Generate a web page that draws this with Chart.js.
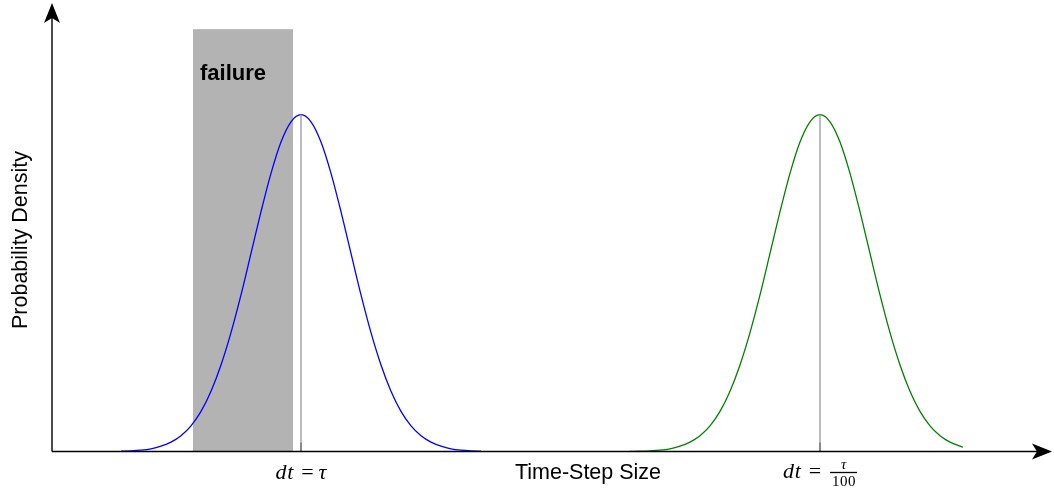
<!DOCTYPE html>
<html>
<head>
<meta charset="utf-8">
<script src="https://cdn.jsdelivr.net/npm/chart.js@4/dist/chart.umd.min.js"></script>
<style>
  html, body { margin: 0; padding: 0; background: #fff; }
  canvas { display: block; }
</style>
</head>
<body>
<canvas id="densityChart" width="1054" height="493"></canvas>
<script>
// x in "time-step" units (axis origin = 0), y = relative density (peak = 1)
var blueX = [0.69, 0.79, 0.89, 0.99, 1.09, 1.19, 1.29, 1.39, 1.49, 1.59, 1.69, 1.79, 1.89, 1.99, 2.09, 2.19, 2.29, 2.39, 2.49,
             2.59, 2.69, 2.79, 2.89, 2.99, 3.09, 3.19, 3.29, 3.39, 3.49, 3.59, 3.69, 3.79, 3.89, 3.99, 4.09, 4.19, 4.29];
var blueY = [0.001, 0.002, 0.004, 0.008, 0.016, 0.028, 0.047, 0.076, 0.119, 0.179, 0.257, 0.353, 0.465, 0.588, 0.712, 0.826, 0.919, 0.979, 1.000,
             0.979, 0.919, 0.826, 0.712, 0.588, 0.465, 0.353, 0.257, 0.179, 0.119, 0.076, 0.047, 0.028, 0.016, 0.008, 0.004, 0.002, 0.001];

var greenX = [5.78, 5.88, 5.98, 6.08, 6.18, 6.28, 6.38, 6.48, 6.58, 6.68, 6.78, 6.88, 6.98, 7.08, 7.18, 7.28, 7.38, 7.48, 7.58, 7.68,
              7.78, 7.88, 7.98, 8.08, 8.18, 8.28, 8.38, 8.48, 8.58, 8.68, 8.78, 8.88, 8.98, 9.08, 9.11];
var greenY = [0.0005, 0.001, 0.002, 0.004, 0.008, 0.016, 0.028, 0.047, 0.076, 0.119, 0.179, 0.257, 0.353, 0.465, 0.588, 0.712, 0.826, 0.919, 0.979, 1.000,
              0.979, 0.919, 0.826, 0.712, 0.588, 0.465, 0.353, 0.257, 0.179, 0.119, 0.076, 0.047, 0.028, 0.016, 0.013];

var peakPositions = [2.49, 7.68];
var failureRange = [1.41, 2.41];   // shaded "failure" band
var failureTop = 1.254;

var xLabel = 'Time-Step Size';
var yLabel = 'Probability Density';
var failureLabel = 'failure';

function toPoints(xs, ys) {
    return xs.map(function(x, i) { return { x: x, y: ys[i] }; });
}

// shaded band behind the curves
var bandPlugin = {
    id: 'band',
    beforeDatasetsDraw: function(chart) {
        var ctx = chart.ctx, xs = chart.scales.x, ys = chart.scales.y;
        var x0 = xs.getPixelForValue(failureRange[0]);
        var x1 = xs.getPixelForValue(failureRange[1]);
        var y0 = ys.getPixelForValue(failureTop);
        var y1 = ys.getPixelForValue(0);
        ctx.save();
        ctx.fillStyle = '#b3b3b3';
        ctx.fillRect(x0, y0, x1 - x0, y1 - y0);
        ctx.fillStyle = '#000';
        ctx.font = 'bold 22px "Liberation Sans", Arial, sans-serif';
        ctx.textBaseline = 'alphabetic';
        ctx.fillText(failureLabel, x0 + 7, y0 + 51);
        ctx.restore();
    }
};

function arrowHead(ctx, x, y, angle) {
    ctx.save();
    ctx.translate(x, y);
    ctx.rotate(angle);
    ctx.beginPath();
    ctx.moveTo(0, 0);
    ctx.lineTo(-20, -8);
    ctx.lineTo(-15, 0);
    ctx.lineTo(-20, 8);
    ctx.closePath();
    ctx.fill();
    ctx.restore();
}

// axes with arrows plus the text labels
var axesPlugin = {
    id: 'axes',
    afterDraw: function(chart) {
        var ctx = chart.ctx, xs = chart.scales.x, ys = chart.scales.y;
        var ox = xs.getPixelForValue(0), oy = ys.getPixelForValue(0);
        var xEnd = xs.getPixelForValue(10.0), yEnd = 3;
        ctx.save();

        // darker stub at the foot of each peak marker
        ctx.strokeStyle = '#777';
        ctx.lineWidth = 1.5;
        peakPositions.forEach(function(p) {
            var px = xs.getPixelForValue(p);
            ctx.beginPath();
            ctx.moveTo(px, oy);
            ctx.lineTo(px, oy - 9);
            ctx.stroke();
        });

        ctx.strokeStyle = '#000';
        ctx.fillStyle = '#000';
        ctx.lineWidth = 1.4;
        ctx.beginPath();
        ctx.moveTo(ox, oy);
        ctx.lineTo(xEnd - 10, oy);
        ctx.moveTo(ox, oy);
        ctx.lineTo(ox, yEnd + 10);
        ctx.stroke();
        arrowHead(ctx, xEnd, oy, 0);
        arrowHead(ctx, ox, yEnd, -Math.PI / 2);

        // axis titles
        ctx.font = '21.5px "Liberation Sans", Arial, sans-serif';
        ctx.textAlign = 'center';
        ctx.textBaseline = 'alphabetic';
        ctx.fillText(xLabel, 588, 479);
        ctx.save();
        ctx.translate(27, 240);
        ctx.rotate(-Math.PI / 2);
        ctx.fillText(yLabel, 0, 0);
        ctx.restore();

        // math labels
        var itS = 'italic 22px "Liberation Serif", serif';
        var upS = '22px "Liberation Serif", serif';
        function width(txt, font, sp) {
            ctx.font = font;
            ctx.letterSpacing = (sp || 0) + 'px';
            var w = ctx.measureText(txt).width;
            ctx.letterSpacing = '0px';
            return w;
        }
        function piece(txt, font, x, y, sp) {
            ctx.font = font;
            ctx.letterSpacing = (sp || 0) + 'px';
            ctx.textAlign = 'left';
            ctx.fillText(txt, x, y);
            var w = ctx.measureText(txt).width;
            ctx.letterSpacing = '0px';
            return w;
        }
        var sp = 0.8, gapL = 7, gapR = 5;

        // dt = tau
        var px = xs.getPixelForValue(peakPositions[0]);
        var w1 = width('dt', itS, sp) + gapL + width('=', upS) + gapR + width('τ', itS);
        var cx = px - w1 / 2;
        cx += piece('dt', itS, cx, 479, sp) + gapL;
        cx += piece('=', upS, cx, 479) + gapR;
        piece('τ', itS, cx, 479);

        // dt = tau / 100
        var px2 = xs.getPixelForValue(peakPositions[1]);
        var small = '15px "Liberation Serif", serif';
        var smallIt = 'italic 15px "Liberation Serif", serif';
        var fw = width('100', small, 0.5) + 3;
        var w2 = width('dt', itS, sp) + gapL + width('=', upS) + gapR + 4 + fw;
        cx = px2 - w2 / 2;
        cx += piece('dt', itS, cx, 478, sp) + gapL;
        cx += piece('=', upS, cx, 478) + gapR + 4;
        ctx.lineWidth = 1.3;
        ctx.beginPath();
        ctx.moveTo(cx, 472.5);
        ctx.lineTo(cx + fw, 472.5);
        ctx.stroke();
        ctx.font = smallIt;
        ctx.textAlign = 'center';
        ctx.fillText('τ', cx + fw / 2, 469);
        ctx.font = small;
        ctx.letterSpacing = '0.5px';
        ctx.fillText('100', cx + fw / 2 + 0.5, 486);
        ctx.letterSpacing = '0px';
        ctx.restore();
    }
};

new Chart(document.getElementById('densityChart'), {
    type: 'line',
    data: {
        datasets: [
            {
                data: [{ x: peakPositions[0], y: 0 }, { x: peakPositions[0], y: 1 }],
                borderColor: '#a6a6a6',
                borderWidth: 1.5,
                pointRadius: 0
            },
            {
                data: [{ x: peakPositions[1], y: 0 }, { x: peakPositions[1], y: 1 }],
                borderColor: '#a6a6a6',
                borderWidth: 1.5,
                pointRadius: 0
            },
            {
                data: toPoints(blueX, blueY),
                borderColor: '#0000ff',
                borderWidth: 1.3,
                pointRadius: 0,
                cubicInterpolationMode: 'monotone'
            },
            {
                data: toPoints(greenX, greenY),
                borderColor: '#008000',
                borderWidth: 1.3,
                pointRadius: 0,
                cubicInterpolationMode: 'monotone'
            }
        ]
    },
    options: {
        responsive: false,
        animation: false,
        layout: { padding: 0 },
        plugins: { legend: { display: false }, tooltip: { enabled: false } },
        scales: {
            x: { type: 'linear', display: false, min: -0.52, max: 10.02 },
            y: { type: 'linear', display: false, min: -0.1232, max: 1.3406 }
        }
    },
    plugins: [bandPlugin, axesPlugin]
});
</script>
</body>
</html>
